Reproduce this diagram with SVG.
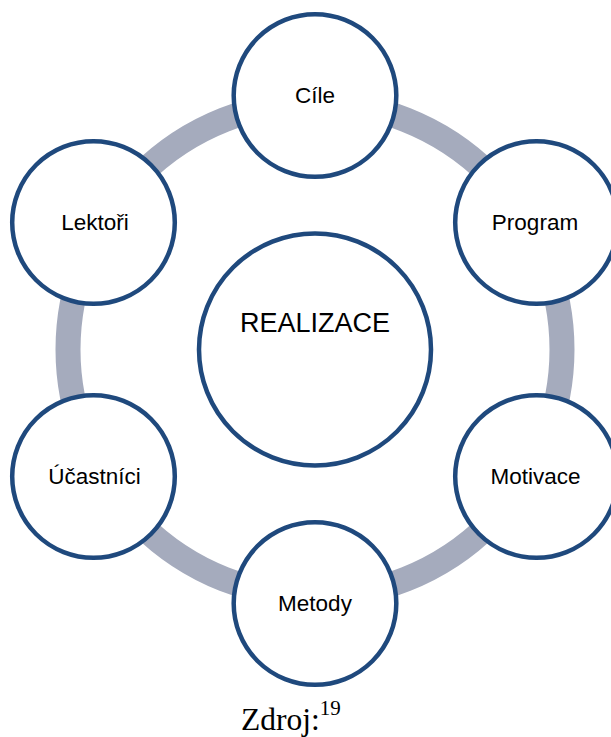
<svg xmlns="http://www.w3.org/2000/svg" width="611" height="737" viewBox="0 0 611 737">
<style>
.node{fill:#fff;stroke:#1F497D;stroke-width:4.5}
.lbl{font-family:"Liberation Sans",Arial,sans-serif;font-size:22.5px;fill:#000;text-anchor:middle}
.ring{fill:none;stroke:#A5ABBD;stroke-width:25}
</style>
<rect width="611" height="737" fill="#fff"/>
<g id="connectors">
<circle class="ring" cx="315" cy="349.5" r="247"/>
</g>
<g id="realizace">
<circle class="node" cx="315" cy="349.5" r="116"/>
<text class="lbl" x="315" y="331.5" style="font-size:27px">REALIZACE</text>
</g>
<g id="cile">
<circle class="node" cx="315" cy="95.5" r="81.3"/>
<text class="lbl" x="315" y="102.5">Cíle</text>
</g>
<g id="program">
<circle class="node" cx="536.5" cy="222.5" r="81.3"/>
<text class="lbl" x="535" y="230">Program</text>
</g>
<g id="motivace">
<circle class="node" cx="536.5" cy="476.5" r="81.3"/>
<text class="lbl" x="535.5" y="483.5">Motivace</text>
</g>
<g id="metody">
<circle class="node" cx="315" cy="603.5" r="81.3"/>
<text class="lbl" x="315" y="611">Metody</text>
</g>
<g id="ucastnici">
<circle class="node" cx="93.5" cy="476.5" r="81.3"/>
<text class="lbl" x="94.5" y="484">Účastníci</text>
</g>
<g id="lektori">
<circle class="node" cx="93.5" cy="222.5" r="81.3"/>
<text class="lbl" x="95" y="229.5">Lektoři</text>
</g>
<text x="241" y="729.5" style="font-family:'Liberation Serif','Times New Roman',serif;font-size:31.5px;fill:#000">Zdroj:<tspan dy="-14.5" style="font-size:21px">19</tspan></text>
</svg>
